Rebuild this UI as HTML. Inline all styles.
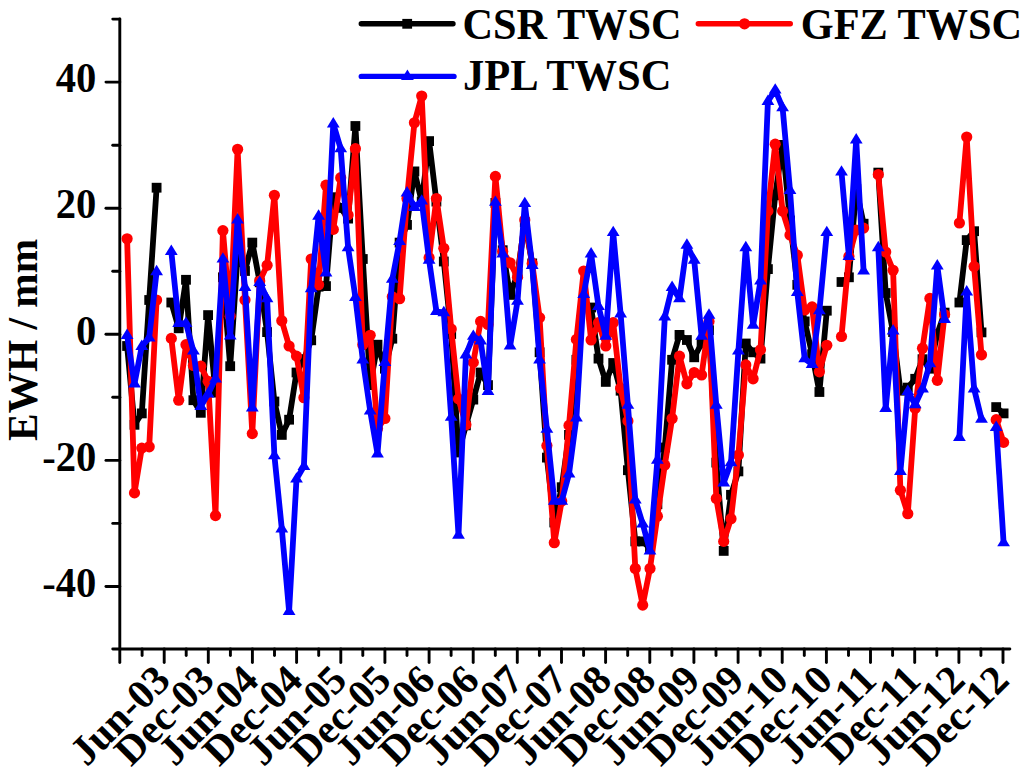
<!DOCTYPE html>
<html><head><meta charset="utf-8"><title>TWSC</title>
<style>html,body{margin:0;padding:0;background:#fff;}svg{display:block;}text{font-family:"Liberation Serif",serif;}</style></head>
<body><svg width="1024" height="773" viewBox="0 0 1024 773">
<rect width="1024" height="773" fill="#fff"/>
<g stroke="#000" stroke-width="2.9" stroke-linecap="round" fill="none">
<line x1="119.8" y1="19.0" x2="119.8" y2="662.55"/>
<line x1="112.75" y1="649.0" x2="1009.8499999999999" y2="649.0"/>
<line x1="105.95" y1="586.5" x2="119.8" y2="586.5"/>
<line x1="112.75" y1="523.4" x2="119.8" y2="523.4"/>
<line x1="105.95" y1="460.4" x2="119.8" y2="460.4"/>
<line x1="112.75" y1="397.3" x2="119.8" y2="397.3"/>
<line x1="105.95" y1="334.3" x2="119.8" y2="334.3"/>
<line x1="112.75" y1="271.3" x2="119.8" y2="271.3"/>
<line x1="105.95" y1="208.2" x2="119.8" y2="208.2"/>
<line x1="112.75" y1="145.2" x2="119.8" y2="145.2"/>
<line x1="105.95" y1="82.1" x2="119.8" y2="82.1"/>
<line x1="112.75" y1="19.1" x2="119.8" y2="19.1"/>
<line x1="142.1" y1="649.0" x2="142.1" y2="655.55"/>
<line x1="164.2" y1="649.0" x2="164.2" y2="662.55"/>
<line x1="186.2" y1="649.0" x2="186.2" y2="655.55"/>
<line x1="208.3" y1="649.0" x2="208.3" y2="662.55"/>
<line x1="230.4" y1="649.0" x2="230.4" y2="655.55"/>
<line x1="252.4" y1="649.0" x2="252.4" y2="662.55"/>
<line x1="274.5" y1="649.0" x2="274.5" y2="655.55"/>
<line x1="296.6" y1="649.0" x2="296.6" y2="662.55"/>
<line x1="318.7" y1="649.0" x2="318.7" y2="655.55"/>
<line x1="340.8" y1="649.0" x2="340.8" y2="662.55"/>
<line x1="362.8" y1="649.0" x2="362.8" y2="655.55"/>
<line x1="384.9" y1="649.0" x2="384.9" y2="662.55"/>
<line x1="407.0" y1="649.0" x2="407.0" y2="655.55"/>
<line x1="429.1" y1="649.0" x2="429.1" y2="662.55"/>
<line x1="451.1" y1="649.0" x2="451.1" y2="655.55"/>
<line x1="473.2" y1="649.0" x2="473.2" y2="662.55"/>
<line x1="495.3" y1="649.0" x2="495.3" y2="655.55"/>
<line x1="517.3" y1="649.0" x2="517.3" y2="662.55"/>
<line x1="539.4" y1="649.0" x2="539.4" y2="655.55"/>
<line x1="561.5" y1="649.0" x2="561.5" y2="662.55"/>
<line x1="583.6" y1="649.0" x2="583.6" y2="655.55"/>
<line x1="605.6" y1="649.0" x2="605.6" y2="662.55"/>
<line x1="627.7" y1="649.0" x2="627.7" y2="655.55"/>
<line x1="649.8" y1="649.0" x2="649.8" y2="662.55"/>
<line x1="671.9" y1="649.0" x2="671.9" y2="655.55"/>
<line x1="693.9" y1="649.0" x2="693.9" y2="662.55"/>
<line x1="716.0" y1="649.0" x2="716.0" y2="655.55"/>
<line x1="738.1" y1="649.0" x2="738.1" y2="662.55"/>
<line x1="760.2" y1="649.0" x2="760.2" y2="655.55"/>
<line x1="782.2" y1="649.0" x2="782.2" y2="662.55"/>
<line x1="804.3" y1="649.0" x2="804.3" y2="655.55"/>
<line x1="826.4" y1="649.0" x2="826.4" y2="662.55"/>
<line x1="848.5" y1="649.0" x2="848.5" y2="655.55"/>
<line x1="870.5" y1="649.0" x2="870.5" y2="662.55"/>
<line x1="892.6" y1="649.0" x2="892.6" y2="655.55"/>
<line x1="914.7" y1="649.0" x2="914.7" y2="662.55"/>
<line x1="936.8" y1="649.0" x2="936.8" y2="655.55"/>
<line x1="958.9" y1="649.0" x2="958.9" y2="662.55"/>
<line x1="980.9" y1="649.0" x2="980.9" y2="655.55"/>
<line x1="1003.0" y1="649.0" x2="1003.0" y2="662.55"/>
</g>
<g font-weight="bold" font-size="42.3px" fill="#000">
<text transform="translate(96.3,92.3) scale(0.96,1.0)" text-anchor="end">40</text>
<text transform="translate(96.3,218.4) scale(0.96,1.0)" text-anchor="end">20</text>
<text transform="translate(96.3,344.5) scale(0.96,1.0)" text-anchor="end">0</text>
<text transform="translate(96.3,470.6) scale(0.96,1.0)" text-anchor="end">-20</text>
<text transform="translate(96.3,596.7) scale(0.96,1.0)" text-anchor="end">-40</text>
<text transform="translate(172.2,682.2) rotate(-45)" text-anchor="end" font-size="41px" x="0" y="0">Jun-03</text>
<text transform="translate(216.3,682.2) rotate(-45)" text-anchor="end" font-size="41px" x="0" y="0">Dec-03</text>
<text transform="translate(260.4,682.2) rotate(-45)" text-anchor="end" font-size="41px" x="0" y="0">Jun-04</text>
<text transform="translate(304.6,682.2) rotate(-45)" text-anchor="end" font-size="41px" x="0" y="0">Dec-04</text>
<text transform="translate(348.8,682.2) rotate(-45)" text-anchor="end" font-size="41px" x="0" y="0">Jun-05</text>
<text transform="translate(392.9,682.2) rotate(-45)" text-anchor="end" font-size="41px" x="0" y="0">Dec-05</text>
<text transform="translate(437.1,682.2) rotate(-45)" text-anchor="end" font-size="41px" x="0" y="0">Jun-06</text>
<text transform="translate(481.2,682.2) rotate(-45)" text-anchor="end" font-size="41px" x="0" y="0">Dec-06</text>
<text transform="translate(525.3,682.2) rotate(-45)" text-anchor="end" font-size="41px" x="0" y="0">Jun-07</text>
<text transform="translate(569.5,682.2) rotate(-45)" text-anchor="end" font-size="41px" x="0" y="0">Dec-07</text>
<text transform="translate(613.6,682.2) rotate(-45)" text-anchor="end" font-size="41px" x="0" y="0">Jun-08</text>
<text transform="translate(657.8,682.2) rotate(-45)" text-anchor="end" font-size="41px" x="0" y="0">Dec-08</text>
<text transform="translate(701.9,682.2) rotate(-45)" text-anchor="end" font-size="41px" x="0" y="0">Jun-09</text>
<text transform="translate(746.1,682.2) rotate(-45)" text-anchor="end" font-size="41px" x="0" y="0">Dec-09</text>
<text transform="translate(790.2,682.2) rotate(-45)" text-anchor="end" font-size="41px" x="0" y="0">Jun-10</text>
<text transform="translate(834.4,682.2) rotate(-45)" text-anchor="end" font-size="41px" x="0" y="0">Dec-10</text>
<text transform="translate(878.5,682.2) rotate(-45)" text-anchor="end" font-size="41px" x="0" y="0">Jun-11</text>
<text transform="translate(922.7,682.2) rotate(-45)" text-anchor="end" font-size="41px" x="0" y="0">Dec-11</text>
<text transform="translate(966.9,682.2) rotate(-45)" text-anchor="end" font-size="41px" x="0" y="0">Jun-12</text>
<text transform="translate(1011.0,682.2) rotate(-45)" text-anchor="end" font-size="41px" x="0" y="0">Dec-12</text>
<text transform="translate(36.9,339.9) rotate(-90) scale(0.977,1.02)" text-anchor="middle">EWH / mm</text>
<text transform="translate(462.5,38.8) scale(1,1.03)">CSR TWSC</text>
<text transform="translate(800.8,38.8) scale(1,1.03)">GFZ TWSC</text>
<text transform="translate(463,90.4) scale(1,1.03)" textLength="208.5" lengthAdjust="spacingAndGlyphs">JPL TWSC</text>
</g>
<line x1="361.3" y1="23.8" x2="453.0" y2="23.8" stroke="#000" stroke-width="5.4" stroke-linecap="round"/>
<rect x="402.3" y="18.9" width="9.8" height="9.8" fill="#000"/>
<line x1="698.3" y1="23.8" x2="790.3" y2="23.8" stroke="#f00" stroke-width="5.4" stroke-linecap="round"/>
<circle cx="744.5" cy="23.8" r="5.6" fill="#f00"/>
<line x1="361.3" y1="76.4" x2="454.0" y2="76.4" stroke="#00f" stroke-width="5.4" stroke-linecap="round"/>
<path d="M401.0,80.0 L413.8,80.0 L407.4,69.6 Z" fill="#00f"/>
<polyline points="127.1,346.0 134.5,424.8 141.8,413.4 149.2,300.0 156.6,187.7" fill="none" stroke="#000" stroke-width="5.8" stroke-linejoin="round" stroke-linecap="butt"/>
<polyline points="171.3,302.5 178.7,328.3 186.0,279.8 193.4,400.2 200.8,412.8 208.1,315.1 215.5,392.6 222.9,277.3 230.2,366.2 237.6,255.2 245.0,271.0 252.3,242.6 259.7,282.3 267.1,332.1 274.4,401.5 281.8,434.9 289.1,419.7 296.5,372.5 303.9,359.2 311.2,340.3 318.6,286.7 326.0,286.1 333.3,197.2 340.7,207.9 348.1,218.6 355.4,126.0 362.8,259.0 370.2,385.1 377.5,344.7 384.9,368.7 392.3,338.7 399.6,242.6 407.0,224.9 414.4,171.4 421.7,201.6 429.1,141.1 436.4,201.6 443.8,261.5 451.2,334.0 458.5,452.5 465.9,425.4 473.3,399.6 480.6,372.5 488.0,385.1 495.4,202.9 502.7,250.2 510.1,294.9 517.5,274.1 524.8,222.4 532.2,263.4 539.6,352.3 546.9,457.6 554.3,522.5 561.7,487.2 569.0,434.9 576.4,359.8 583.7,302.5 591.1,307.5 598.5,358.6 605.8,381.9 613.2,363.0 620.6,390.7 627.9,470.2 635.3,541.4 642.7,541.4 650.0,548.3 657.4,504.2 664.8,447.5 672.1,359.8 679.5,334.9 686.9,340.0 694.2,357.3 701.6,343.5 709.0,330.2 716.3,462.6 723.7,550.9 731.0,494.8 738.4,471.4 745.8,343.5 753.1,352.3 760.5,358.6 767.9,269.1 775.2,195.3 782.6,144.9 790.0,220.5 797.3,284.8 804.7,321.4 812.1,354.2 819.4,392.0 826.8,310.7" fill="none" stroke="#000" stroke-width="5.8" stroke-linejoin="round" stroke-linecap="butt"/>
<polyline points="841.5,282.0 848.9,277.3 856.2,189.0 863.6,223.7" fill="none" stroke="#000" stroke-width="5.8" stroke-linejoin="round" stroke-linecap="butt"/>
<polyline points="878.3,172.6 885.7,293.0 893.1,332.1 900.4,390.7 907.8,387.6 915.2,378.8 922.5,359.2 929.9,368.7 937.3,334.0 944.6,312.6" fill="none" stroke="#000" stroke-width="5.8" stroke-linejoin="round" stroke-linecap="butt"/>
<polyline points="959.4,302.5 966.7,240.1 974.1,231.2 981.5,332.4" fill="none" stroke="#000" stroke-width="5.8" stroke-linejoin="round" stroke-linecap="butt"/>
<polyline points="996.2,407.1 1003.6,413.4" fill="none" stroke="#000" stroke-width="5.8" stroke-linejoin="round" stroke-linecap="butt"/>
<rect x="122.2" y="341.1" width="9.8" height="9.8" fill="#000"/>
<rect x="129.6" y="419.9" width="9.8" height="9.8" fill="#000"/>
<rect x="136.9" y="408.5" width="9.8" height="9.8" fill="#000"/>
<rect x="144.3" y="295.1" width="9.8" height="9.8" fill="#000"/>
<rect x="151.7" y="182.8" width="9.8" height="9.8" fill="#000"/>
<rect x="166.4" y="297.6" width="9.8" height="9.8" fill="#000"/>
<rect x="173.8" y="323.4" width="9.8" height="9.8" fill="#000"/>
<rect x="181.1" y="274.9" width="9.8" height="9.8" fill="#000"/>
<rect x="188.5" y="395.3" width="9.8" height="9.8" fill="#000"/>
<rect x="195.9" y="407.9" width="9.8" height="9.8" fill="#000"/>
<rect x="203.2" y="310.2" width="9.8" height="9.8" fill="#000"/>
<rect x="210.6" y="387.7" width="9.8" height="9.8" fill="#000"/>
<rect x="218.0" y="272.4" width="9.8" height="9.8" fill="#000"/>
<rect x="225.3" y="361.3" width="9.8" height="9.8" fill="#000"/>
<rect x="232.7" y="250.3" width="9.8" height="9.8" fill="#000"/>
<rect x="240.1" y="266.1" width="9.8" height="9.8" fill="#000"/>
<rect x="247.4" y="237.7" width="9.8" height="9.8" fill="#000"/>
<rect x="254.8" y="277.4" width="9.8" height="9.8" fill="#000"/>
<rect x="262.2" y="327.2" width="9.8" height="9.8" fill="#000"/>
<rect x="269.5" y="396.6" width="9.8" height="9.8" fill="#000"/>
<rect x="276.9" y="430.0" width="9.8" height="9.8" fill="#000"/>
<rect x="284.2" y="414.8" width="9.8" height="9.8" fill="#000"/>
<rect x="291.6" y="367.6" width="9.8" height="9.8" fill="#000"/>
<rect x="299.0" y="354.3" width="9.8" height="9.8" fill="#000"/>
<rect x="306.3" y="335.4" width="9.8" height="9.8" fill="#000"/>
<rect x="313.7" y="281.8" width="9.8" height="9.8" fill="#000"/>
<rect x="321.1" y="281.2" width="9.8" height="9.8" fill="#000"/>
<rect x="328.4" y="192.3" width="9.8" height="9.8" fill="#000"/>
<rect x="335.8" y="203.0" width="9.8" height="9.8" fill="#000"/>
<rect x="343.2" y="213.7" width="9.8" height="9.8" fill="#000"/>
<rect x="350.5" y="121.1" width="9.8" height="9.8" fill="#000"/>
<rect x="357.9" y="254.1" width="9.8" height="9.8" fill="#000"/>
<rect x="365.3" y="380.2" width="9.8" height="9.8" fill="#000"/>
<rect x="372.6" y="339.8" width="9.8" height="9.8" fill="#000"/>
<rect x="380.0" y="363.8" width="9.8" height="9.8" fill="#000"/>
<rect x="387.4" y="333.8" width="9.8" height="9.8" fill="#000"/>
<rect x="394.7" y="237.7" width="9.8" height="9.8" fill="#000"/>
<rect x="402.1" y="220.0" width="9.8" height="9.8" fill="#000"/>
<rect x="409.5" y="166.5" width="9.8" height="9.8" fill="#000"/>
<rect x="416.8" y="196.7" width="9.8" height="9.8" fill="#000"/>
<rect x="424.2" y="136.2" width="9.8" height="9.8" fill="#000"/>
<rect x="431.5" y="196.7" width="9.8" height="9.8" fill="#000"/>
<rect x="438.9" y="256.6" width="9.8" height="9.8" fill="#000"/>
<rect x="446.3" y="329.1" width="9.8" height="9.8" fill="#000"/>
<rect x="453.6" y="447.6" width="9.8" height="9.8" fill="#000"/>
<rect x="461.0" y="420.5" width="9.8" height="9.8" fill="#000"/>
<rect x="468.4" y="394.7" width="9.8" height="9.8" fill="#000"/>
<rect x="475.7" y="367.6" width="9.8" height="9.8" fill="#000"/>
<rect x="483.1" y="380.2" width="9.8" height="9.8" fill="#000"/>
<rect x="490.5" y="198.0" width="9.8" height="9.8" fill="#000"/>
<rect x="497.8" y="245.3" width="9.8" height="9.8" fill="#000"/>
<rect x="505.2" y="290.0" width="9.8" height="9.8" fill="#000"/>
<rect x="512.6" y="269.2" width="9.8" height="9.8" fill="#000"/>
<rect x="519.9" y="217.5" width="9.8" height="9.8" fill="#000"/>
<rect x="527.3" y="258.5" width="9.8" height="9.8" fill="#000"/>
<rect x="534.7" y="347.4" width="9.8" height="9.8" fill="#000"/>
<rect x="542.0" y="452.7" width="9.8" height="9.8" fill="#000"/>
<rect x="549.4" y="517.6" width="9.8" height="9.8" fill="#000"/>
<rect x="556.8" y="482.3" width="9.8" height="9.8" fill="#000"/>
<rect x="564.1" y="430.0" width="9.8" height="9.8" fill="#000"/>
<rect x="571.5" y="354.9" width="9.8" height="9.8" fill="#000"/>
<rect x="578.8" y="297.6" width="9.8" height="9.8" fill="#000"/>
<rect x="586.2" y="302.6" width="9.8" height="9.8" fill="#000"/>
<rect x="593.6" y="353.7" width="9.8" height="9.8" fill="#000"/>
<rect x="600.9" y="377.0" width="9.8" height="9.8" fill="#000"/>
<rect x="608.3" y="358.1" width="9.8" height="9.8" fill="#000"/>
<rect x="615.7" y="385.8" width="9.8" height="9.8" fill="#000"/>
<rect x="623.0" y="465.3" width="9.8" height="9.8" fill="#000"/>
<rect x="630.4" y="536.5" width="9.8" height="9.8" fill="#000"/>
<rect x="637.8" y="536.5" width="9.8" height="9.8" fill="#000"/>
<rect x="645.1" y="543.4" width="9.8" height="9.8" fill="#000"/>
<rect x="652.5" y="499.3" width="9.8" height="9.8" fill="#000"/>
<rect x="659.9" y="442.6" width="9.8" height="9.8" fill="#000"/>
<rect x="667.2" y="354.9" width="9.8" height="9.8" fill="#000"/>
<rect x="674.6" y="330.0" width="9.8" height="9.8" fill="#000"/>
<rect x="682.0" y="335.1" width="9.8" height="9.8" fill="#000"/>
<rect x="689.3" y="352.4" width="9.8" height="9.8" fill="#000"/>
<rect x="696.7" y="338.6" width="9.8" height="9.8" fill="#000"/>
<rect x="704.1" y="325.3" width="9.8" height="9.8" fill="#000"/>
<rect x="711.4" y="457.7" width="9.8" height="9.8" fill="#000"/>
<rect x="718.8" y="546.0" width="9.8" height="9.8" fill="#000"/>
<rect x="726.1" y="489.9" width="9.8" height="9.8" fill="#000"/>
<rect x="733.5" y="466.5" width="9.8" height="9.8" fill="#000"/>
<rect x="740.9" y="338.6" width="9.8" height="9.8" fill="#000"/>
<rect x="748.2" y="347.4" width="9.8" height="9.8" fill="#000"/>
<rect x="755.6" y="353.7" width="9.8" height="9.8" fill="#000"/>
<rect x="763.0" y="264.2" width="9.8" height="9.8" fill="#000"/>
<rect x="770.3" y="190.4" width="9.8" height="9.8" fill="#000"/>
<rect x="777.7" y="140.0" width="9.8" height="9.8" fill="#000"/>
<rect x="785.1" y="215.6" width="9.8" height="9.8" fill="#000"/>
<rect x="792.4" y="279.9" width="9.8" height="9.8" fill="#000"/>
<rect x="799.8" y="316.5" width="9.8" height="9.8" fill="#000"/>
<rect x="807.2" y="349.3" width="9.8" height="9.8" fill="#000"/>
<rect x="814.5" y="387.1" width="9.8" height="9.8" fill="#000"/>
<rect x="821.9" y="305.8" width="9.8" height="9.8" fill="#000"/>
<rect x="836.6" y="277.1" width="9.8" height="9.8" fill="#000"/>
<rect x="844.0" y="272.4" width="9.8" height="9.8" fill="#000"/>
<rect x="851.4" y="184.1" width="9.8" height="9.8" fill="#000"/>
<rect x="858.7" y="218.8" width="9.8" height="9.8" fill="#000"/>
<rect x="873.4" y="167.7" width="9.8" height="9.8" fill="#000"/>
<rect x="880.8" y="288.1" width="9.8" height="9.8" fill="#000"/>
<rect x="888.2" y="327.2" width="9.8" height="9.8" fill="#000"/>
<rect x="895.5" y="385.8" width="9.8" height="9.8" fill="#000"/>
<rect x="902.9" y="382.7" width="9.8" height="9.8" fill="#000"/>
<rect x="910.3" y="373.9" width="9.8" height="9.8" fill="#000"/>
<rect x="917.6" y="354.3" width="9.8" height="9.8" fill="#000"/>
<rect x="925.0" y="363.8" width="9.8" height="9.8" fill="#000"/>
<rect x="932.4" y="329.1" width="9.8" height="9.8" fill="#000"/>
<rect x="939.7" y="307.7" width="9.8" height="9.8" fill="#000"/>
<rect x="954.5" y="297.6" width="9.8" height="9.8" fill="#000"/>
<rect x="961.8" y="235.2" width="9.8" height="9.8" fill="#000"/>
<rect x="969.2" y="226.3" width="9.8" height="9.8" fill="#000"/>
<rect x="976.6" y="327.5" width="9.8" height="9.8" fill="#000"/>
<rect x="991.3" y="402.2" width="9.8" height="9.8" fill="#000"/>
<rect x="998.7" y="408.5" width="9.8" height="9.8" fill="#000"/>
<polyline points="127.1,238.8 134.5,492.9 141.8,448.1 149.2,446.8 156.6,300.0" fill="none" stroke="#f00" stroke-width="5.8" stroke-linejoin="round" stroke-linecap="butt"/>
<polyline points="171.3,338.4 178.7,400.2 186.0,344.7 193.4,365.5 200.8,366.2 208.1,381.3 215.5,515.6 222.9,230.6 230.2,316.3 237.6,149.3 245.0,300.0 252.3,433.6 259.7,281.0 267.1,265.3 274.4,195.3 281.8,320.8 289.1,346.0 296.5,356.1 303.9,397.7 311.2,259.0 318.6,284.8 326.0,185.2 333.3,229.4 340.7,177.7 348.1,214.9 355.4,148.7 362.8,344.7 370.2,335.3 377.5,428.6 384.9,418.5 392.3,296.8 399.6,298.7 407.0,198.5 414.4,122.8 421.7,96.0 429.1,257.7 436.4,198.5 443.8,248.3 451.2,329.0 458.5,398.9 465.9,424.8 473.3,362.4 480.6,321.4 488.0,324.5 495.4,176.4 502.7,251.4 510.1,262.8 517.5,277.3 524.8,219.9 532.2,263.4 539.6,317.6 546.9,445.6 554.3,542.7 561.7,501.1 569.0,425.4 576.4,339.4 583.7,271.0 591.1,340.0 598.5,322.7 605.8,346.0 613.2,322.7 620.6,388.2 627.9,421.0 635.3,568.5 642.7,605.1 650.0,568.5 657.4,516.2 664.8,465.1 672.1,418.5 679.5,356.1 686.9,383.8 694.2,372.5 701.6,375.0 709.0,321.4 716.3,498.5 723.7,541.4 731.0,518.7 738.4,455.0 745.8,364.9 753.1,378.8 760.5,349.8 767.9,211.1 775.2,144.2 782.6,211.1 790.0,235.0 797.3,255.2 804.7,310.0 812.1,306.9 819.4,371.8 826.8,345.3" fill="none" stroke="#f00" stroke-width="5.8" stroke-linejoin="round" stroke-linecap="butt"/>
<polyline points="841.5,336.5 848.9,256.5 856.2,230.0 863.6,228.1" fill="none" stroke="#f00" stroke-width="5.8" stroke-linejoin="round" stroke-linecap="butt"/>
<polyline points="878.3,174.5 885.7,252.0 893.1,270.3 900.4,490.3 907.8,513.7 915.2,408.4 922.5,348.2 929.9,298.4 937.3,380.3 944.6,314.5" fill="none" stroke="#f00" stroke-width="5.8" stroke-linejoin="round" stroke-linecap="butt"/>
<polyline points="959.4,223.0 966.7,137.0 974.1,266.5 981.5,354.8" fill="none" stroke="#f00" stroke-width="5.8" stroke-linejoin="round" stroke-linecap="butt"/>
<polyline points="996.2,419.7 1003.6,442.4" fill="none" stroke="#f00" stroke-width="5.8" stroke-linejoin="round" stroke-linecap="butt"/>
<circle cx="127.1" cy="238.8" r="5.6" fill="#f00"/>
<circle cx="134.5" cy="492.9" r="5.6" fill="#f00"/>
<circle cx="141.8" cy="448.1" r="5.6" fill="#f00"/>
<circle cx="149.2" cy="446.8" r="5.6" fill="#f00"/>
<circle cx="156.6" cy="300.0" r="5.6" fill="#f00"/>
<circle cx="171.3" cy="338.4" r="5.6" fill="#f00"/>
<circle cx="178.7" cy="400.2" r="5.6" fill="#f00"/>
<circle cx="186.0" cy="344.7" r="5.6" fill="#f00"/>
<circle cx="193.4" cy="365.5" r="5.6" fill="#f00"/>
<circle cx="200.8" cy="366.2" r="5.6" fill="#f00"/>
<circle cx="208.1" cy="381.3" r="5.6" fill="#f00"/>
<circle cx="215.5" cy="515.6" r="5.6" fill="#f00"/>
<circle cx="222.9" cy="230.6" r="5.6" fill="#f00"/>
<circle cx="230.2" cy="316.3" r="5.6" fill="#f00"/>
<circle cx="237.6" cy="149.3" r="5.6" fill="#f00"/>
<circle cx="245.0" cy="300.0" r="5.6" fill="#f00"/>
<circle cx="252.3" cy="433.6" r="5.6" fill="#f00"/>
<circle cx="259.7" cy="281.0" r="5.6" fill="#f00"/>
<circle cx="267.1" cy="265.3" r="5.6" fill="#f00"/>
<circle cx="274.4" cy="195.3" r="5.6" fill="#f00"/>
<circle cx="281.8" cy="320.8" r="5.6" fill="#f00"/>
<circle cx="289.1" cy="346.0" r="5.6" fill="#f00"/>
<circle cx="296.5" cy="356.1" r="5.6" fill="#f00"/>
<circle cx="303.9" cy="397.7" r="5.6" fill="#f00"/>
<circle cx="311.2" cy="259.0" r="5.6" fill="#f00"/>
<circle cx="318.6" cy="284.8" r="5.6" fill="#f00"/>
<circle cx="326.0" cy="185.2" r="5.6" fill="#f00"/>
<circle cx="333.3" cy="229.4" r="5.6" fill="#f00"/>
<circle cx="340.7" cy="177.7" r="5.6" fill="#f00"/>
<circle cx="348.1" cy="214.9" r="5.6" fill="#f00"/>
<circle cx="355.4" cy="148.7" r="5.6" fill="#f00"/>
<circle cx="362.8" cy="344.7" r="5.6" fill="#f00"/>
<circle cx="370.2" cy="335.3" r="5.6" fill="#f00"/>
<circle cx="377.5" cy="428.6" r="5.6" fill="#f00"/>
<circle cx="384.9" cy="418.5" r="5.6" fill="#f00"/>
<circle cx="392.3" cy="296.8" r="5.6" fill="#f00"/>
<circle cx="399.6" cy="298.7" r="5.6" fill="#f00"/>
<circle cx="407.0" cy="198.5" r="5.6" fill="#f00"/>
<circle cx="414.4" cy="122.8" r="5.6" fill="#f00"/>
<circle cx="421.7" cy="96.0" r="5.6" fill="#f00"/>
<circle cx="429.1" cy="257.7" r="5.6" fill="#f00"/>
<circle cx="436.4" cy="198.5" r="5.6" fill="#f00"/>
<circle cx="443.8" cy="248.3" r="5.6" fill="#f00"/>
<circle cx="451.2" cy="329.0" r="5.6" fill="#f00"/>
<circle cx="458.5" cy="398.9" r="5.6" fill="#f00"/>
<circle cx="465.9" cy="424.8" r="5.6" fill="#f00"/>
<circle cx="473.3" cy="362.4" r="5.6" fill="#f00"/>
<circle cx="480.6" cy="321.4" r="5.6" fill="#f00"/>
<circle cx="488.0" cy="324.5" r="5.6" fill="#f00"/>
<circle cx="495.4" cy="176.4" r="5.6" fill="#f00"/>
<circle cx="502.7" cy="251.4" r="5.6" fill="#f00"/>
<circle cx="510.1" cy="262.8" r="5.6" fill="#f00"/>
<circle cx="517.5" cy="277.3" r="5.6" fill="#f00"/>
<circle cx="524.8" cy="219.9" r="5.6" fill="#f00"/>
<circle cx="532.2" cy="263.4" r="5.6" fill="#f00"/>
<circle cx="539.6" cy="317.6" r="5.6" fill="#f00"/>
<circle cx="546.9" cy="445.6" r="5.6" fill="#f00"/>
<circle cx="554.3" cy="542.7" r="5.6" fill="#f00"/>
<circle cx="561.7" cy="501.1" r="5.6" fill="#f00"/>
<circle cx="569.0" cy="425.4" r="5.6" fill="#f00"/>
<circle cx="576.4" cy="339.4" r="5.6" fill="#f00"/>
<circle cx="583.7" cy="271.0" r="5.6" fill="#f00"/>
<circle cx="591.1" cy="340.0" r="5.6" fill="#f00"/>
<circle cx="598.5" cy="322.7" r="5.6" fill="#f00"/>
<circle cx="605.8" cy="346.0" r="5.6" fill="#f00"/>
<circle cx="613.2" cy="322.7" r="5.6" fill="#f00"/>
<circle cx="620.6" cy="388.2" r="5.6" fill="#f00"/>
<circle cx="627.9" cy="421.0" r="5.6" fill="#f00"/>
<circle cx="635.3" cy="568.5" r="5.6" fill="#f00"/>
<circle cx="642.7" cy="605.1" r="5.6" fill="#f00"/>
<circle cx="650.0" cy="568.5" r="5.6" fill="#f00"/>
<circle cx="657.4" cy="516.2" r="5.6" fill="#f00"/>
<circle cx="664.8" cy="465.1" r="5.6" fill="#f00"/>
<circle cx="672.1" cy="418.5" r="5.6" fill="#f00"/>
<circle cx="679.5" cy="356.1" r="5.6" fill="#f00"/>
<circle cx="686.9" cy="383.8" r="5.6" fill="#f00"/>
<circle cx="694.2" cy="372.5" r="5.6" fill="#f00"/>
<circle cx="701.6" cy="375.0" r="5.6" fill="#f00"/>
<circle cx="709.0" cy="321.4" r="5.6" fill="#f00"/>
<circle cx="716.3" cy="498.5" r="5.6" fill="#f00"/>
<circle cx="723.7" cy="541.4" r="5.6" fill="#f00"/>
<circle cx="731.0" cy="518.7" r="5.6" fill="#f00"/>
<circle cx="738.4" cy="455.0" r="5.6" fill="#f00"/>
<circle cx="745.8" cy="364.9" r="5.6" fill="#f00"/>
<circle cx="753.1" cy="378.8" r="5.6" fill="#f00"/>
<circle cx="760.5" cy="349.8" r="5.6" fill="#f00"/>
<circle cx="767.9" cy="211.1" r="5.6" fill="#f00"/>
<circle cx="775.2" cy="144.2" r="5.6" fill="#f00"/>
<circle cx="782.6" cy="211.1" r="5.6" fill="#f00"/>
<circle cx="790.0" cy="235.0" r="5.6" fill="#f00"/>
<circle cx="797.3" cy="255.2" r="5.6" fill="#f00"/>
<circle cx="804.7" cy="310.0" r="5.6" fill="#f00"/>
<circle cx="812.1" cy="306.9" r="5.6" fill="#f00"/>
<circle cx="819.4" cy="371.8" r="5.6" fill="#f00"/>
<circle cx="826.8" cy="345.3" r="5.6" fill="#f00"/>
<circle cx="841.5" cy="336.5" r="5.6" fill="#f00"/>
<circle cx="848.9" cy="256.5" r="5.6" fill="#f00"/>
<circle cx="856.2" cy="230.0" r="5.6" fill="#f00"/>
<circle cx="863.6" cy="228.1" r="5.6" fill="#f00"/>
<circle cx="878.3" cy="174.5" r="5.6" fill="#f00"/>
<circle cx="885.7" cy="252.0" r="5.6" fill="#f00"/>
<circle cx="893.1" cy="270.3" r="5.6" fill="#f00"/>
<circle cx="900.4" cy="490.3" r="5.6" fill="#f00"/>
<circle cx="907.8" cy="513.7" r="5.6" fill="#f00"/>
<circle cx="915.2" cy="408.4" r="5.6" fill="#f00"/>
<circle cx="922.5" cy="348.2" r="5.6" fill="#f00"/>
<circle cx="929.9" cy="298.4" r="5.6" fill="#f00"/>
<circle cx="937.3" cy="380.3" r="5.6" fill="#f00"/>
<circle cx="944.6" cy="314.5" r="5.6" fill="#f00"/>
<circle cx="959.4" cy="223.0" r="5.6" fill="#f00"/>
<circle cx="966.7" cy="137.0" r="5.6" fill="#f00"/>
<circle cx="974.1" cy="266.5" r="5.6" fill="#f00"/>
<circle cx="981.5" cy="354.8" r="5.6" fill="#f00"/>
<circle cx="996.2" cy="419.7" r="5.6" fill="#f00"/>
<circle cx="1003.6" cy="442.4" r="5.6" fill="#f00"/>
<polyline points="127.1,335.3 134.5,383.8 141.8,346.3 149.2,337.8 156.6,271.6" fill="none" stroke="#00f" stroke-width="5.8" stroke-linejoin="round" stroke-linecap="butt"/>
<polyline points="171.3,251.4 178.7,323.3 186.0,323.3 193.4,351.0 200.8,406.5 208.1,393.9 215.5,378.8 222.9,259.0 230.2,335.9 237.6,219.9 245.0,287.4 252.3,407.8 259.7,282.3 267.1,298.7 274.4,455.7 281.8,528.8 289.1,611.4 296.5,479.0 303.9,466.4 311.2,288.6 318.6,216.1 326.0,272.9 333.3,123.8 340.7,148.7 348.1,247.6 355.4,297.4 362.8,359.8 370.2,410.9 377.5,453.8 384.9,362.4 392.3,279.2 399.6,241.3 407.0,192.8 414.4,207.3 421.7,201.0 429.1,260.2 436.4,311.3 443.8,312.6 451.2,417.2 458.5,535.1 465.9,354.8 473.3,336.2 480.6,340.9 488.0,391.4 495.4,202.2 502.7,253.9 510.1,346.0 517.5,301.2 524.8,203.5 532.2,265.3 539.6,359.8 546.9,429.2 554.3,501.1 561.7,501.1 569.0,473.9 576.4,417.8 583.7,294.3 591.1,253.9 598.5,306.3 605.8,336.2 613.2,232.5 620.6,313.8 627.9,405.2 635.3,499.8 642.7,523.8 650.0,550.9 657.4,460.1 664.8,317.0 672.1,287.4 679.5,298.7 686.9,245.1 694.2,260.2 701.6,336.2 709.0,315.1 716.3,405.2 723.7,482.8 731.0,462.6 738.4,351.0 745.8,247.6 753.1,325.2 760.5,281.0 767.9,101.4 775.2,90.0 782.6,107.7 790.0,190.3 797.3,292.4 804.7,358.6 812.1,364.3 819.4,310.7 826.8,232.5" fill="none" stroke="#00f" stroke-width="5.8" stroke-linejoin="round" stroke-linecap="butt"/>
<polyline points="841.5,172.0 848.9,256.5 856.2,139.8 863.6,271.0" fill="none" stroke="#00f" stroke-width="5.8" stroke-linejoin="round" stroke-linecap="butt"/>
<polyline points="878.3,247.6 885.7,408.4 893.1,330.8 900.4,471.4 907.8,391.4 915.2,404.6 922.5,388.8 929.9,363.6 937.3,265.9 944.6,319.5" fill="none" stroke="#00f" stroke-width="5.8" stroke-linejoin="round" stroke-linecap="butt"/>
<polyline points="959.4,437.4 966.7,291.8 974.1,388.8 981.5,419.1" fill="none" stroke="#00f" stroke-width="5.8" stroke-linejoin="round" stroke-linecap="butt"/>
<polyline points="996.2,427.3 1003.6,542.7" fill="none" stroke="#00f" stroke-width="5.8" stroke-linejoin="round" stroke-linecap="butt"/>
<path d="M120.7,338.9 L133.5,338.9 L127.1,328.5 Z" fill="#00f"/>
<path d="M128.1,387.4 L140.9,387.4 L134.5,377.0 Z" fill="#00f"/>
<path d="M135.4,349.9 L148.2,349.9 L141.8,339.5 Z" fill="#00f"/>
<path d="M142.8,341.4 L155.6,341.4 L149.2,331.0 Z" fill="#00f"/>
<path d="M150.2,275.2 L163.0,275.2 L156.6,264.8 Z" fill="#00f"/>
<path d="M164.9,255.0 L177.7,255.0 L171.3,244.6 Z" fill="#00f"/>
<path d="M172.3,326.9 L185.1,326.9 L178.7,316.5 Z" fill="#00f"/>
<path d="M179.6,326.9 L192.4,326.9 L186.0,316.5 Z" fill="#00f"/>
<path d="M187.0,354.6 L199.8,354.6 L193.4,344.2 Z" fill="#00f"/>
<path d="M194.4,410.1 L207.2,410.1 L200.8,399.7 Z" fill="#00f"/>
<path d="M201.7,397.5 L214.5,397.5 L208.1,387.1 Z" fill="#00f"/>
<path d="M209.1,382.4 L221.9,382.4 L215.5,372.0 Z" fill="#00f"/>
<path d="M216.5,262.6 L229.3,262.6 L222.9,252.2 Z" fill="#00f"/>
<path d="M223.8,339.5 L236.6,339.5 L230.2,329.1 Z" fill="#00f"/>
<path d="M231.2,223.5 L244.0,223.5 L237.6,213.1 Z" fill="#00f"/>
<path d="M238.6,291.0 L251.4,291.0 L245.0,280.6 Z" fill="#00f"/>
<path d="M245.9,411.4 L258.7,411.4 L252.3,401.0 Z" fill="#00f"/>
<path d="M253.3,285.9 L266.1,285.9 L259.7,275.5 Z" fill="#00f"/>
<path d="M260.7,302.3 L273.4,302.3 L267.1,291.9 Z" fill="#00f"/>
<path d="M268.0,459.3 L280.8,459.3 L274.4,448.9 Z" fill="#00f"/>
<path d="M275.4,532.4 L288.2,532.4 L281.8,522.0 Z" fill="#00f"/>
<path d="M282.7,615.0 L295.5,615.0 L289.1,604.6 Z" fill="#00f"/>
<path d="M290.1,482.6 L302.9,482.6 L296.5,472.2 Z" fill="#00f"/>
<path d="M297.5,470.0 L310.3,470.0 L303.9,459.6 Z" fill="#00f"/>
<path d="M304.8,292.2 L317.6,292.2 L311.2,281.8 Z" fill="#00f"/>
<path d="M312.2,219.7 L325.0,219.7 L318.6,209.3 Z" fill="#00f"/>
<path d="M319.6,276.5 L332.4,276.5 L326.0,266.1 Z" fill="#00f"/>
<path d="M326.9,127.4 L339.7,127.4 L333.3,117.0 Z" fill="#00f"/>
<path d="M334.3,152.3 L347.1,152.3 L340.7,141.9 Z" fill="#00f"/>
<path d="M341.7,251.2 L354.5,251.2 L348.1,240.8 Z" fill="#00f"/>
<path d="M349.0,301.0 L361.8,301.0 L355.4,290.6 Z" fill="#00f"/>
<path d="M356.4,363.4 L369.2,363.4 L362.8,353.0 Z" fill="#00f"/>
<path d="M363.8,414.5 L376.6,414.5 L370.2,404.1 Z" fill="#00f"/>
<path d="M371.1,457.4 L383.9,457.4 L377.5,447.0 Z" fill="#00f"/>
<path d="M378.5,366.0 L391.3,366.0 L384.9,355.6 Z" fill="#00f"/>
<path d="M385.9,282.8 L398.7,282.8 L392.3,272.4 Z" fill="#00f"/>
<path d="M393.2,244.9 L406.0,244.9 L399.6,234.5 Z" fill="#00f"/>
<path d="M400.6,196.4 L413.4,196.4 L407.0,186.0 Z" fill="#00f"/>
<path d="M408.0,210.9 L420.8,210.9 L414.4,200.5 Z" fill="#00f"/>
<path d="M415.3,204.6 L428.1,204.6 L421.7,194.2 Z" fill="#00f"/>
<path d="M422.7,263.8 L435.5,263.8 L429.1,253.4 Z" fill="#00f"/>
<path d="M430.0,314.9 L442.8,314.9 L436.4,304.5 Z" fill="#00f"/>
<path d="M437.4,316.2 L450.2,316.2 L443.8,305.8 Z" fill="#00f"/>
<path d="M444.8,420.8 L457.6,420.8 L451.2,410.4 Z" fill="#00f"/>
<path d="M452.1,538.7 L464.9,538.7 L458.5,528.3 Z" fill="#00f"/>
<path d="M459.5,358.4 L472.3,358.4 L465.9,348.0 Z" fill="#00f"/>
<path d="M466.9,339.8 L479.7,339.8 L473.3,329.4 Z" fill="#00f"/>
<path d="M474.2,344.5 L487.0,344.5 L480.6,334.1 Z" fill="#00f"/>
<path d="M481.6,395.0 L494.4,395.0 L488.0,384.6 Z" fill="#00f"/>
<path d="M489.0,205.8 L501.8,205.8 L495.4,195.4 Z" fill="#00f"/>
<path d="M496.3,257.5 L509.1,257.5 L502.7,247.1 Z" fill="#00f"/>
<path d="M503.7,349.6 L516.5,349.6 L510.1,339.2 Z" fill="#00f"/>
<path d="M511.1,304.8 L523.9,304.8 L517.5,294.4 Z" fill="#00f"/>
<path d="M518.4,207.1 L531.2,207.1 L524.8,196.7 Z" fill="#00f"/>
<path d="M525.8,268.9 L538.6,268.9 L532.2,258.5 Z" fill="#00f"/>
<path d="M533.2,363.4 L546.0,363.4 L539.6,353.0 Z" fill="#00f"/>
<path d="M540.5,432.8 L553.3,432.8 L546.9,422.4 Z" fill="#00f"/>
<path d="M547.9,504.7 L560.7,504.7 L554.3,494.3 Z" fill="#00f"/>
<path d="M555.3,504.7 L568.1,504.7 L561.7,494.3 Z" fill="#00f"/>
<path d="M562.6,477.5 L575.4,477.5 L569.0,467.1 Z" fill="#00f"/>
<path d="M570.0,421.4 L582.8,421.4 L576.4,411.0 Z" fill="#00f"/>
<path d="M577.3,297.9 L590.1,297.9 L583.7,287.5 Z" fill="#00f"/>
<path d="M584.7,257.5 L597.5,257.5 L591.1,247.1 Z" fill="#00f"/>
<path d="M592.1,309.9 L604.9,309.9 L598.5,299.5 Z" fill="#00f"/>
<path d="M599.4,339.8 L612.2,339.8 L605.8,329.4 Z" fill="#00f"/>
<path d="M606.8,236.1 L619.6,236.1 L613.2,225.7 Z" fill="#00f"/>
<path d="M614.2,317.4 L627.0,317.4 L620.6,307.0 Z" fill="#00f"/>
<path d="M621.5,408.8 L634.3,408.8 L627.9,398.4 Z" fill="#00f"/>
<path d="M628.9,503.4 L641.7,503.4 L635.3,493.0 Z" fill="#00f"/>
<path d="M636.3,527.4 L649.1,527.4 L642.7,517.0 Z" fill="#00f"/>
<path d="M643.6,554.5 L656.4,554.5 L650.0,544.1 Z" fill="#00f"/>
<path d="M651.0,463.7 L663.8,463.7 L657.4,453.3 Z" fill="#00f"/>
<path d="M658.4,320.6 L671.2,320.6 L664.8,310.2 Z" fill="#00f"/>
<path d="M665.7,291.0 L678.5,291.0 L672.1,280.6 Z" fill="#00f"/>
<path d="M673.1,302.3 L685.9,302.3 L679.5,291.9 Z" fill="#00f"/>
<path d="M680.5,248.7 L693.3,248.7 L686.9,238.3 Z" fill="#00f"/>
<path d="M687.8,263.8 L700.6,263.8 L694.2,253.4 Z" fill="#00f"/>
<path d="M695.2,339.8 L708.0,339.8 L701.6,329.4 Z" fill="#00f"/>
<path d="M702.6,318.7 L715.4,318.7 L709.0,308.3 Z" fill="#00f"/>
<path d="M709.9,408.8 L722.7,408.8 L716.3,398.4 Z" fill="#00f"/>
<path d="M717.3,486.4 L730.1,486.4 L723.7,476.0 Z" fill="#00f"/>
<path d="M724.6,466.2 L737.4,466.2 L731.0,455.8 Z" fill="#00f"/>
<path d="M732.0,354.6 L744.8,354.6 L738.4,344.2 Z" fill="#00f"/>
<path d="M739.4,251.2 L752.2,251.2 L745.8,240.8 Z" fill="#00f"/>
<path d="M746.7,328.8 L759.5,328.8 L753.1,318.4 Z" fill="#00f"/>
<path d="M754.1,284.6 L766.9,284.6 L760.5,274.2 Z" fill="#00f"/>
<path d="M761.5,105.0 L774.3,105.0 L767.9,94.6 Z" fill="#00f"/>
<path d="M768.8,93.6 L781.6,93.6 L775.2,83.2 Z" fill="#00f"/>
<path d="M776.2,111.3 L789.0,111.3 L782.6,100.9 Z" fill="#00f"/>
<path d="M783.6,193.9 L796.4,193.9 L790.0,183.5 Z" fill="#00f"/>
<path d="M790.9,296.0 L803.7,296.0 L797.3,285.6 Z" fill="#00f"/>
<path d="M798.3,362.2 L811.1,362.2 L804.7,351.8 Z" fill="#00f"/>
<path d="M805.7,367.9 L818.5,367.9 L812.1,357.5 Z" fill="#00f"/>
<path d="M813.0,314.3 L825.8,314.3 L819.4,303.9 Z" fill="#00f"/>
<path d="M820.4,236.1 L833.2,236.1 L826.8,225.7 Z" fill="#00f"/>
<path d="M835.1,175.6 L847.9,175.6 L841.5,165.2 Z" fill="#00f"/>
<path d="M842.5,260.1 L855.3,260.1 L848.9,249.7 Z" fill="#00f"/>
<path d="M849.9,143.4 L862.6,143.4 L856.2,133.0 Z" fill="#00f"/>
<path d="M857.2,274.6 L870.0,274.6 L863.6,264.2 Z" fill="#00f"/>
<path d="M871.9,251.2 L884.7,251.2 L878.3,240.8 Z" fill="#00f"/>
<path d="M879.3,412.0 L892.1,412.0 L885.7,401.6 Z" fill="#00f"/>
<path d="M886.7,334.4 L899.5,334.4 L893.1,324.0 Z" fill="#00f"/>
<path d="M894.0,475.0 L906.8,475.0 L900.4,464.6 Z" fill="#00f"/>
<path d="M901.4,395.0 L914.2,395.0 L907.8,384.6 Z" fill="#00f"/>
<path d="M908.8,408.2 L921.6,408.2 L915.2,397.8 Z" fill="#00f"/>
<path d="M916.1,392.4 L928.9,392.4 L922.5,382.0 Z" fill="#00f"/>
<path d="M923.5,367.2 L936.3,367.2 L929.9,356.8 Z" fill="#00f"/>
<path d="M930.9,269.5 L943.7,269.5 L937.3,259.1 Z" fill="#00f"/>
<path d="M938.2,323.1 L951.0,323.1 L944.6,312.7 Z" fill="#00f"/>
<path d="M953.0,441.0 L965.8,441.0 L959.4,430.6 Z" fill="#00f"/>
<path d="M960.3,295.4 L973.1,295.4 L966.7,285.0 Z" fill="#00f"/>
<path d="M967.7,392.4 L980.5,392.4 L974.1,382.0 Z" fill="#00f"/>
<path d="M975.1,422.7 L987.9,422.7 L981.5,412.3 Z" fill="#00f"/>
<path d="M989.8,430.9 L1002.6,430.9 L996.2,420.5 Z" fill="#00f"/>
<path d="M997.2,546.3 L1010.0,546.3 L1003.6,535.9 Z" fill="#00f"/>
</svg></body></html>
